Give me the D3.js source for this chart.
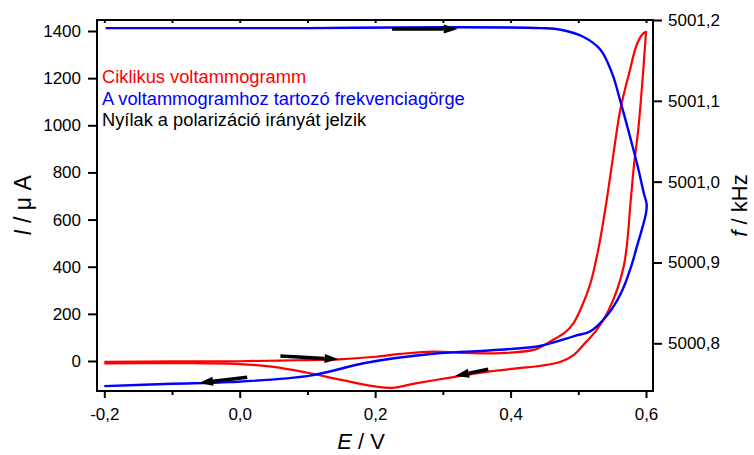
<!DOCTYPE html>
<html>
<head>
<meta charset="utf-8">
<script src="https://cdn.jsdelivr.net/npm/d3@7"></script>
<style>
  body { margin: 0; background: #fff; }
  svg text { font-family: "Liberation Sans", Arial, sans-serif; }
</style>
</head>
<body>
<div id="chart"></div>
<script>
// cyclic voltammogram, anodic (forward) scan: E / V and I / uA
var cvForwardE = [-0.2, -0.1, 0.0, 0.06, 0.1, 0.146, 0.2, 0.237, 0.286, 0.336, 0.385, 0.434, 0.4435, 0.46, 0.48, 0.493, 0.505, 0.518, 0.53, 0.542, 0.552, 0.562, 0.575, 0.587, 0.596, 0.6];
var cvForwardI = [-4, -2, -1, 2, 4, 7, 18, 30, 40, 34, 33, 47, 58, 85, 120, 161, 230, 330, 480, 683, 880, 1065, 1220, 1347, 1390, 1395];
// cathodic (reverse) scan
var cvReverseE = [0.6, 0.5965, 0.589, 0.582, 0.5775, 0.567, 0.545, 0.527, 0.51, 0.493, 0.474, 0.445, 0.409, 0.36, 0.32, 0.26, 0.225, 0.2, 0.15, 0.1, 0.05, 0.0, -0.05, -0.1, -0.2];
var cvReverseI = [1395, 1255, 994, 824, 683, 400, 216, 131, 76, 25, -3, -20, -31, -48, -66, -95, -114, -108, -80, -50, -25, -13, -10, -9, -10];

// frequency curve recorded with the voltammogram: E / V and f / kHz
var freqE = [-0.2, -0.1, -0.014, 0.104, 0.187, 0.286, 0.384, 0.445, 0.494, 0.518, 0.543, 0.563, 0.578, 0.588, 0.595, 0.6, 0.601, 0.597, 0.588, 0.575, 0.562, 0.55, 0.533, 0.508, 0.474, 0.445, 0.3, 0.1, -0.1, -0.198];
var freqF = [5000.747, 5000.750, 5000.752, 5000.760, 5000.776, 5000.787, 5000.792, 5000.797, 5000.809, 5000.815, 5000.835, 5000.862, 5000.895, 5000.924, 5000.944, 5000.961, 5000.972, 5000.985, 5001.018, 5001.06, 5001.10, 5001.134, 5001.163, 5001.179, 5001.188, 5001.19, 5001.191, 5001.19, 5001.19, 5001.19];

// tick values
var xMajorTicks = [-0.2, 0.0, 0.2, 0.4, 0.6];
var xMinorTicks = [-0.1, 0.1, 0.3, 0.5];
var iTicks = [0, 200, 400, 600, 800, 1000, 1200, 1400];
var fTicks = [5000.8, 5000.9, 5001.0, 5001.1, 5001.2];

// direction arrows (start / end, data units, which y axis)
var arrowAxis = ["f", "I", "I", "f"];
var arrowE0 = [0.225, 0.06, 0.367, 0.011];
var arrowE1 = [0.322, 0.146, 0.318, -0.060];
var arrowV0 = [5001.189, 21, -35, 5000.758];
var arrowV1 = [5001.189, 7, -64, 5000.751];

var legendTexts = ["Ciklikus voltammogramm", "A voltammogramhoz tartozó frekvenciagörge", "Nyílak a polarizáció irányát jelzik"];
var legendColors = ["#ff0000", "#0000ff", "#000000"];

var width = 754, height = 455;
var frame = { left: 97, right: 653, top: 20, bottom: 391 };

var svg = d3.select("#chart").append("svg")
    .attr("width", width)
    .attr("height", height);

var x = d3.scaleLinear().domain([-0.2, 0.6]).range([104.3, 646]);
var yI = d3.scaleLinear().domain([0, 1400]).range([361, 31]);
var yF = d3.scaleLinear().domain([5000.8, 5001.2]).range([343.3, 20]);

var loc = d3.formatLocale({ decimal: ",", thousands: "", grouping: [3], currency: ["", ""], minus: "-" });
var fmt1 = loc.format(".1f");

// curves
var cvData = cvForwardE.map(function(e, i) { return [e, cvForwardI[i]]; })
    .concat(cvReverseE.map(function(e, i) { return [e, cvReverseI[i]]; }));
var freqData = freqE.map(function(e, i) { return [e, freqF[i]]; });

var cvLine = d3.line()
    .x(function(d) { return x(d[0]); })
    .y(function(d) { return yI(d[1]); })
    .curve(d3.curveCatmullRom.alpha(0.5));

var fLine = d3.line()
    .x(function(d) { return x(d[0]); })
    .y(function(d) { return yF(d[1]); })
    .curve(d3.curveCatmullRom.alpha(0.5));

svg.append("path")
    .datum(cvData)
    .attr("fill", "none")
    .attr("stroke", "#ff0000")
    .attr("stroke-width", 2.2)
    .attr("d", cvLine);

svg.append("path")
    .datum(freqData)
    .attr("fill", "none")
    .attr("stroke", "#0000ff")
    .attr("stroke-width", 2.4)
    .attr("d", fLine);

// arrows
arrowAxis.forEach(function(ax, i) {
  var ys = ax === "f" ? yF : yI;
  var x0 = x(arrowE0[i]), y0 = ys(arrowV0[i]);
  var x1 = x(arrowE1[i]), y1 = ys(arrowV1[i]);
  var a = Math.atan2(y1 - y0, x1 - x0);
  var headLen = 14, headW = 4.5;
  var bx = x1 - headLen * Math.cos(a), by = y1 - headLen * Math.sin(a);
  svg.append("line")
      .attr("x1", x0).attr("y1", y0)
      .attr("x2", bx).attr("y2", by)
      .attr("stroke", "#000")
      .attr("stroke-width", 3.6);
  var px = -Math.sin(a) * headW, py = Math.cos(a) * headW;
  svg.append("path")
      .attr("d", "M" + x1 + "," + y1 + "L" + (bx + px) + "," + (by + py) + "L" + (bx - px) + "," + (by - py) + "Z")
      .attr("fill", "#000");
});

// frame
svg.append("rect")
    .attr("x", frame.left)
    .attr("y", frame.top)
    .attr("width", frame.right - frame.left)
    .attr("height", frame.bottom - frame.top)
    .attr("fill", "none")
    .attr("stroke", "#000")
    .attr("stroke-width", 2);

function styleAxis(g, size) {
  g.select(".domain").remove();
  g.selectAll(".tick line").attr("stroke", "#000").attr("stroke-width", 2);
  g.selectAll(".tick text").style("font-size", size + "px").style("fill", "#000");
  g.attr("font-family", null);
}

svg.append("g")
    .attr("transform", "translate(0," + frame.bottom + ")")
    .call(d3.axisBottom(x).tickValues(xMajorTicks).tickFormat(fmt1).tickSize(7).tickPadding(10))
    .call(styleAxis, 17);

svg.append("g")
    .attr("transform", "translate(0," + frame.bottom + ")")
    .call(d3.axisBottom(x).tickValues(xMinorTicks).tickFormat("").tickSize(4))
    .call(styleAxis, 17);

svg.append("g")
    .attr("transform", "translate(0," + frame.top + ")")
    .call(d3.axisBottom(x).tickValues(xMajorTicks.concat(xMinorTicks)).tickFormat("").tickSize(3))
    .call(styleAxis, 17);

svg.append("g")
    .attr("transform", "translate(" + frame.left + ",0)")
    .call(d3.axisLeft(yI).tickValues(iTicks).tickFormat(d3.format("d")).tickSize(9).tickPadding(7))
    .call(styleAxis, 17);

svg.append("g")
    .attr("transform", "translate(" + frame.right + ",0)")
    .call(d3.axisRight(yF).tickValues(fTicks).tickFormat(fmt1).tickSize(9).tickPadding(6))
    .call(styleAxis, 17);

// legend texts
svg.selectAll(".legend")
    .data(legendTexts)
    .enter().append("text")
    .attr("class", "legend")
    .attr("x", 102)
    .attr("y", function(d, i) { return 83 + i * 21.5; })
    .style("fill", function(d, i) { return legendColors[i]; })
    .style("font-size", "18.3px")
    .text(function(d) { return d; });

// axis labels
var yl = svg.append("text")
    .attr("transform", "translate(31," + ((frame.top + frame.bottom) / 2) + ") rotate(-90)")
    .attr("text-anchor", "middle")
    .style("font-size", "23px");
yl.append("tspan").style("font-style", "italic").text("I");
yl.append("tspan").text(" / μ A");

var fl = svg.append("text")
    .attr("transform", "translate(747," + ((frame.top + frame.bottom) / 2) + ") rotate(-90)")
    .attr("text-anchor", "middle")
    .style("font-size", "22px");
fl.append("tspan").style("font-style", "italic").text("f");
fl.append("tspan").text(" / kHz");

var xl = svg.append("text")
    .attr("x", 361)
    .attr("y", 449)
    .attr("text-anchor", "middle")
    .style("font-size", "22px");
xl.append("tspan").style("font-style", "italic").text("E");
xl.append("tspan").text(" / V");
</script>
</body>
</html>
